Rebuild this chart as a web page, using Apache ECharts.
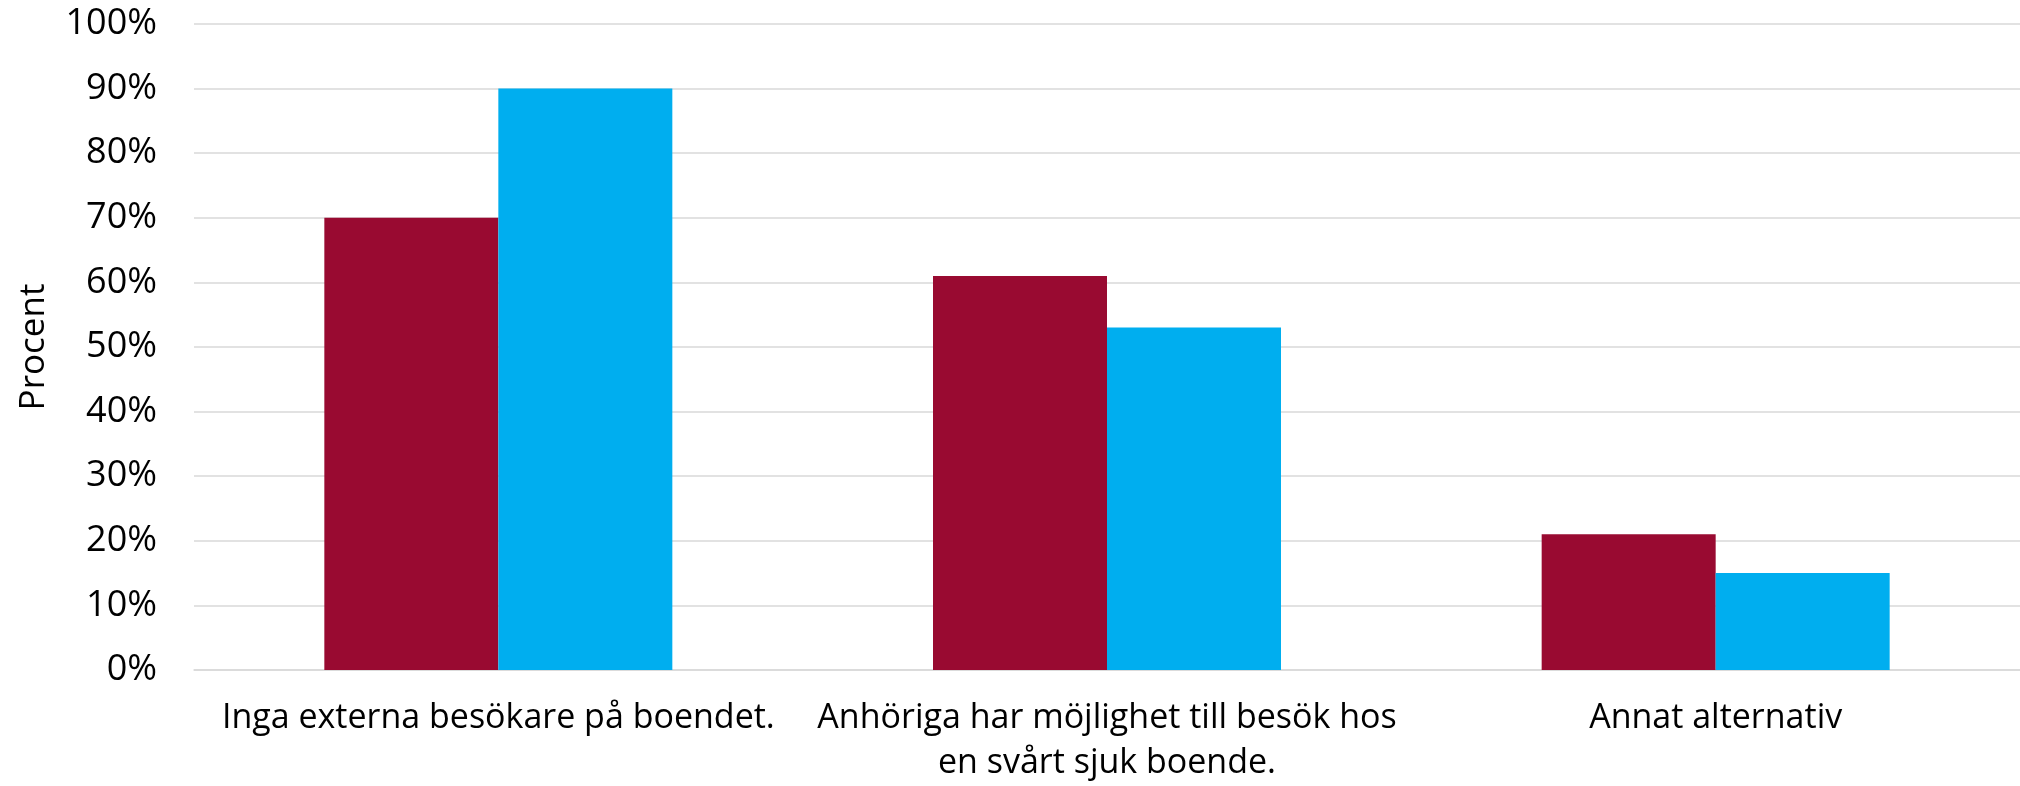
<!DOCTYPE html>
<html>
<head>
<meta charset="utf-8">
<script src="https://cdn.jsdelivr.net/npm/echarts@6/dist/echarts.min.js"></script>
<style>html,body{margin:0;padding:0;background:#fff}#c{width:2020px;height:786px}</style>
</head>
<body>
<div id="c"></div>
<script>
const categories = ["Inga externa besökare på boendet.", "Anhöriga har möjlighet till besök hos\nen svårt sjuk boende.", "Annat alternativ"];
const seriesA = [70, 61, 21];
const seriesB = [90, 53, 15];
const yTicks = [0, 10, 20, 30, 40, 50, 60, 70, 80, 90, 100];

const chart = echarts.init(document.getElementById('c'), null, {renderer: 'canvas'});
const font = '"Open Sans", "Noto Sans", sans-serif';
chart.setOption({
  animation: false,
  grid: {left: 194, top: 24, width: 1829, height: 653, containLabel: false},
  xAxis: {
    type: 'category',
    data: categories,
    axisTick: {show: false},
    axisLine: {show: true, lineStyle: {color: '#d9d9d9', width: 1.5}},
    axisLabel: {color: '#000', fontFamily: font, fontSize: 34, margin: 26, lineHeight: 45, interval: 0}
  },
  yAxis: {
    type: 'value',
    min: yTicks[0], max: yTicks[yTicks.length - 1], interval: 10,
    name: 'Procent',
    nameLocation: 'middle',
    nameRotate: 90,
    nameGap: 142,
    nameTextStyle: {color: '#000', fontFamily: font, fontSize: 35},
    axisLine: {show: false},
    axisTick: {show: false},
    splitLine: {lineStyle: {color: '#d9d9d9', width: 1.5}},
    axisLabel: {color: '#000', fontFamily: font, fontSize: 36, margin: 37, formatter: '{value}%'}
  },
  series: [
    {name: 'Serie 1', type: 'bar', data: seriesA, barWidth: 174, barGap: '0%', itemStyle: {color: '#990A31'}},
    {name: 'Serie 2', type: 'bar', data: seriesB, barWidth: 174, barGap: '0%', itemStyle: {color: '#00AEEF'}}
  ]
});
</script>
</body>
</html>
